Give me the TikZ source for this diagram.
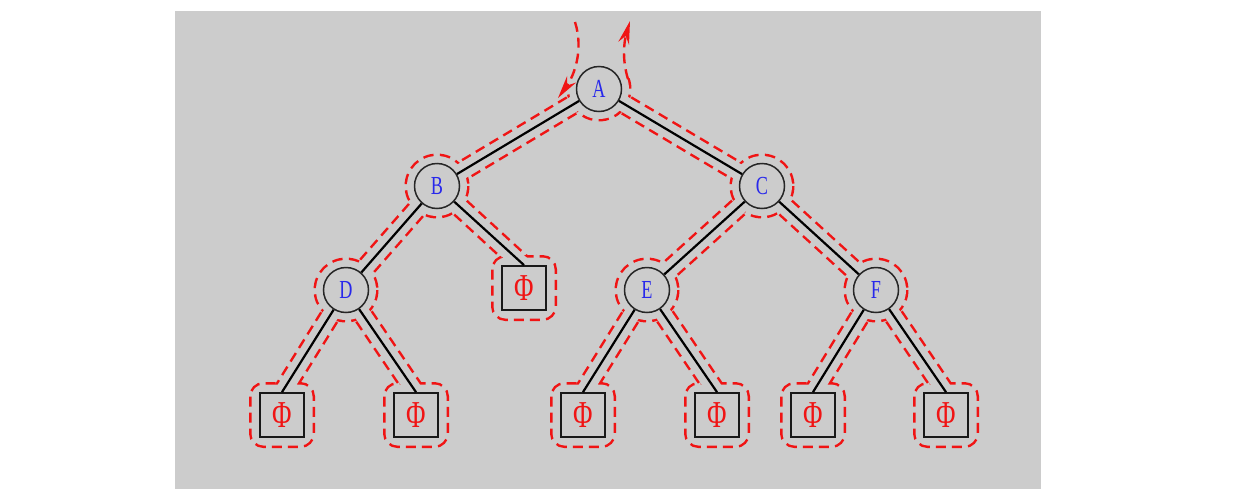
\documentclass[tikz,border=0pt]{standalone}
\usepackage{fontspec}
\setmainfont{Liberation Serif}
\usepackage{graphicx}
\usetikzlibrary{calc,arrows.meta}
\definecolor{bg}{RGB}{204,204,204}
\definecolor{lblue}{RGB}{40,40,235}
\definecolor{cred}{RGB}{240,20,20}
\newcommand\contourstrip[2]{%
  \draw[contour] ($(#1)!8pt!90:(#2)$) -- ($(#2)!8pt!-90:(#1)$);
  \draw[contour] ($(#1)!8pt!-90:(#2)$) -- ($(#2)!8pt!90:(#1)$);}
\newcommand\holestrip[2]{%
  \fill[bg] ($(#1)!8pt!90:(#2)$) -- ($(#2)!8pt!-90:(#1)$) --
    ($(#2)!8pt!90:(#1)$) -- ($(#1)!8pt!-90:(#2)$) -- cycle;}
\begin{document}
\begin{tikzpicture}[x=1pt,y=-1pt,
  contour/.style={draw=cred, line width=5pt, dash pattern=on 10pt off 6pt},
  inner/.style={circle, draw=black!85, line width=1.5pt, fill=bg, minimum size=45pt,
    inner sep=0pt, text=lblue, font=\fontsize{26}{26}\selectfont},
  leaf/.style={rectangle, draw=black!90, line width=1.8pt, minimum size=44pt,
    inner sep=0pt, text=cred, font=\fontsize{38}{38}\selectfont},
  edge/.style={draw=black, line width=2.2pt},
  tour/.style={draw=cred, line width=2.4pt, dash pattern=on 10pt off 6pt,
    -{Stealth[length=23pt,width=11pt]}}
]
\useasboundingbox (0,0) rectangle (1251,493);
\fill[white] (0,0) rectangle (1251,493);
\fill[bg] (175,11) rectangle (1041,489);
% centres
\coordinate (cA) at (599,89);
\coordinate (cB) at (437,186);
\coordinate (cC) at (762,186);
\coordinate (cD) at (346,290);
\coordinate (cE) at (647,290);
\coordinate (cF) at (876,290);
\coordinate (cP) at (524,288);
\coordinate (c1) at (282,415);
\coordinate (c2) at (416,415);
\coordinate (c3) at (583,415);
\coordinate (c4) at (717,415);
\coordinate (c5) at (813,415);
\coordinate (c6) at (946,415);
% tops of the leaves
\coordinate (nP) at (524,266);
\coordinate (n1) at (282,393);
\coordinate (n2) at (416,393);
\coordinate (n3) at (583,393);
\coordinate (n4) at (717,393);
\coordinate (n5) at (813,393);
\coordinate (n6) at (946,393);
% traversal contour: outlines
\foreach \p/\q in {cA/cB,cA/cC,cB/cD,cB/nP,cC/cE,cC/cF,cD/n1,cD/n2,cE/n3,cE/n4,cF/n5,cF/n6}
  {\contourstrip{\p}{\q}}
\foreach \c in {cB,cC,cD,cE,cF}
  {\draw[contour] (\c) circle[radius=30];}
\draw[contour] ($(cA)+(-20:30)$) arc[start angle=-20, end angle=170, radius=30];
\foreach \l in {cP,c1,c2,c3,c4,c5,c6}
  {\draw[contour, rounded corners=12pt] ($(\l)+(-30.5,-30.5)$) rectangle ($(\l)+(30.5,30.5)$);}
% traversal contour: interiors
\foreach \p/\q in {cA/cB,cA/cC,cB/cD,cB/nP,cC/cE,cC/cF,cD/n1,cD/n2,cE/n3,cE/n4,cF/n5,cF/n6}
  {\holestrip{\p}{\q}}
\foreach \c in {cA,cB,cC,cD,cE,cF}
  {\fill[bg] (\c) circle[radius=30];}
\foreach \l in {cP,c1,c2,c3,c4,c5,c6}
  {\fill[bg, rounded corners=12pt] ($(\l)+(-30.5,-30.5)$) rectangle ($(\l)+(30.5,30.5)$);}
% entry and exit arrows
\coordinate (inS) at (575,22);
\coordinate (inE) at (558,98);
\coordinate (outS) at (628,79);
\coordinate (outE) at (630,21);
\draw[tour] (inS) .. controls (584,50) and (574,76) .. (inE);
\draw[tour] (outS) .. controls (622,60) and (624,42) .. (outE);
% tree
\node[inner] (A) at (cA) {\scalebox{0.7}[1]{A}};
\node[inner] (B) at (cB) {\scalebox{0.7}[1]{B}};
\node[inner] (C) at (cC) {\scalebox{0.7}[1]{C}};
\node[inner] (D) at (cD) {\scalebox{0.7}[1]{D}};
\node[inner] (E) at (cE) {\scalebox{0.7}[1]{E}};
\node[inner] (F) at (cF) {\scalebox{0.7}[1]{F}};
\node[leaf] (P) at (cP) {\scalebox{0.7}[1]{Φ}};
\node[leaf] (L1) at (c1) {\scalebox{0.7}[1]{Φ}};
\node[leaf] (L2) at (c2) {\scalebox{0.7}[1]{Φ}};
\node[leaf] (L3) at (c3) {\scalebox{0.7}[1]{Φ}};
\node[leaf] (L4) at (c4) {\scalebox{0.7}[1]{Φ}};
\node[leaf] (L5) at (c5) {\scalebox{0.7}[1]{Φ}};
\node[leaf] (L6) at (c6) {\scalebox{0.7}[1]{Φ}};
\draw[edge] (A) -- (B);
\draw[edge] (A) -- (C);
\draw[edge] (B) -- (D);
\draw[edge] (B) -- (P.north);
\draw[edge] (C) -- (E);
\draw[edge] (C) -- (F);
\draw[edge] (D) -- (L1.north);
\draw[edge] (D) -- (L2.north);
\draw[edge] (E) -- (L3.north);
\draw[edge] (E) -- (L4.north);
\draw[edge] (F) -- (L5.north);
\draw[edge] (F) -- (L6.north);
\end{tikzpicture}
\end{document}
